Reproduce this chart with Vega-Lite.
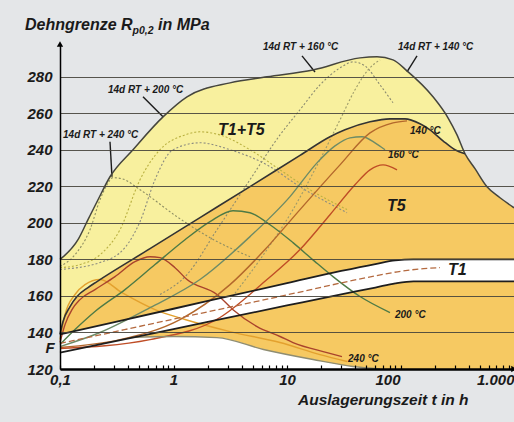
{
  "$schema": "https://vega.github.io/schema/vega-lite/v6.json",
  "width": 454,
  "height": 325,
  "autosize": {"type": "none"},
  "padding": {"left": 60, "top": 44, "right": 0, "bottom": 53},
  "background": "#e4e6e8",
  "config": {"font": "Liberation Sans", "view": {"stroke": null}},
  "datasets": {
    "dome": [
      {"t": 0.1, "v": 180}, {"t": 0.1441, "v": 190.8}, {"t": 0.1765, "v": 201.8}, {"t": 0.2162, "v": 212.7},
      {"t": 0.2758, "v": 225.3}, {"t": 0.4396, "v": 240.1}, {"t": 0.8082, "v": 258.1}, {"t": 1.315, "v": 269.1},
      {"t": 3.148, "v": 276.7}, {"t": 6.664, "v": 280}, {"t": 16.95, "v": 283.8}, {"t": 43.98, "v": 290.4},
      {"t": 62.09, "v": 291}, {"t": 85.89, "v": 289.3}, {"t": 114.1, "v": 283.3}, {"t": 193.3, "v": 269.1},
      {"t": 262.1, "v": 257.6}, {"t": 314.7, "v": 248.2}, {"t": 370.1, "v": 237.9}, {"t": 453.3, "v": 229.7},
      {"t": 578.3, "v": 219.8}, {"t": 752.9, "v": 213.8}, {"t": 1000, "v": 208.3}
    ],
    "orange": [
      {"t": 0.1, "v": 139}, {"t": 0.1063, "v": 146}, {"t": 0.1225, "v": 154.2}, {"t": 0.1412, "v": 159.7},
      {"t": 0.1765, "v": 164.6}, {"t": 0.2118, "v": 167.9}, {"t": 0.6209, "v": 185.9}, {"t": 1.712, "v": 202.9},
      {"t": 4.721, "v": 219.9}, {"t": 13.02, "v": 237}, {"t": 23.92, "v": 247.2}, {"t": 32.43, "v": 251},
      {"t": 53.87, "v": 255.4}, {"t": 80.79, "v": 257}, {"t": 109.5, "v": 257}, {"t": 148.5, "v": 254.3},
      {"t": 181.9, "v": 251}, {"t": 236.8, "v": 245}, {"t": 302.1, "v": 240.1}, {"t": 370.1, "v": 237.9},
      {"t": 453.3, "v": 229.7}, {"t": 578.3, "v": 219.8}, {"t": 752.9, "v": 213.8}, {"t": 1000, "v": 208.3}
    ],
    "band": [
      {"t": 0.1, "v": 139, "v2": 129}, {"t": 1, "v": 153, "v2": 141.9}, {"t": 10, "v": 167, "v2": 154.8},
      {"t": 30, "v": 173.7, "v2": 160.9}, {"t": 60, "v": 177.5, "v2": 164.6}, {"t": 90, "v": 179.5, "v2": 166.9},
      {"t": 130, "v": 180, "v2": 168}, {"t": 1000, "v": 180, "v2": 168}
    ],
    "bottom": [
      {"t": 0.1, "v": 129}, {"t": 0.25, "v": 134.1}, {"t": 0.414, "v": 137.2}, {"t": 1, "v": 137.8},
      {"t": 2.416, "v": 137.2}, {"t": 6.2, "v": 130.7}, {"t": 16.95, "v": 125.2}, {"t": 38, "v": 121.4}, {"t": 66, "v": 120}
    ],
    "curves": [
      {"s": "c240o", "t": 0.1, "v": 136.1}, {"s": "c240o", "t": 0.1107, "v": 149.8}, {"s": "c240o", "t": 0.1356, "v": 160.8},
      {"s": "c240o", "t": 0.1661, "v": 166.2}, {"s": "c240o", "t": 0.2251, "v": 169}, {"s": "c240o", "t": 0.3518, "v": 161.8},
      {"s": "c240o", "t": 0.6871, "v": 152.5}, {"s": "c240o", "t": 1.263, "v": 147.1}, {"s": "c240o", "t": 3.148, "v": 140.5},
      {"s": "c240o", "t": 8.677, "v": 134.5}, {"s": "c240o", "t": 19.53, "v": 127.9}, {"s": "c240o", "t": 33.78, "v": 124.1},

      {"s": "c240r", "t": 0.1, "v": 134.5}, {"s": "c240r", "t": 0.1107, "v": 144.3}, {"s": "c240r", "t": 0.1275, "v": 152.5},
      {"s": "c240r", "t": 0.15, "v": 158}, {"s": "c240r", "t": 0.2034, "v": 163.5}, {"s": "c240r", "t": 0.3052, "v": 170.6},
      {"s": "c240r", "t": 0.4578, "v": 178.8}, {"s": "c240r", "t": 0.6209, "v": 181.5}, {"s": "c240r", "t": 0.7603, "v": 181},
      {"s": "c240r", "t": 1.031, "v": 175.5}, {"s": "c240r", "t": 1.315, "v": 169}, {"s": "c240r", "t": 2.416, "v": 160.8},
      {"s": "c240r", "t": 3.344, "v": 152.5}, {"s": "c240r", "t": 5.442, "v": 143.2}, {"s": "c240r", "t": 8.677, "v": 137.8},
      {"s": "c240r", "t": 11.29, "v": 134.5}, {"s": "c240r", "t": 22.51, "v": 129}, {"s": "c240r", "t": 30.5, "v": 126.8},

      {"s": "c200", "t": 0.1, "v": 133.4}, {"s": "c200", "t": 0.1356, "v": 141.6}, {"s": "c200", "t": 0.2034, "v": 151.5},
      {"s": "c200", "t": 0.3738, "v": 163.5}, {"s": "c200", "t": 0.6871, "v": 177.2}, {"s": "c200", "t": 1.263, "v": 190.8},
      {"s": "c200", "t": 2.097, "v": 200.7}, {"s": "c200", "t": 3.344, "v": 206.7}, {"s": "c200", "t": 4.721, "v": 205.6},
      {"s": "c200", "t": 7.083, "v": 199}, {"s": "c200", "t": 11.29, "v": 189.2}, {"s": "c200", "t": 17.65, "v": 178.8},
      {"s": "c200", "t": 25.43, "v": 170.6}, {"s": "c200", "t": 43.98, "v": 159.7}, {"s": "c200", "t": 80.79, "v": 150.9},

      {"s": "c160", "t": 0.1, "v": 132.3}, {"s": "c160", "t": 0.2251, "v": 140}, {"s": "c160", "t": 0.6209, "v": 153.6},
      {"s": "c160", "t": 1.712, "v": 169}, {"s": "c160", "t": 4.721, "v": 192.5}, {"s": "c160", "t": 10.63, "v": 214.4},
      {"s": "c160", "t": 18.38, "v": 232.9}, {"s": "c160", "t": 26.48, "v": 242.2}, {"s": "c160", "t": 35.92, "v": 246.6},
      {"s": "c160", "t": 45.8, "v": 247.2}, {"s": "c160", "t": 59.62, "v": 243.9}, {"s": "c160", "t": 73.03, "v": 240.1},

      {"s": "c140b", "t": 0.1, "v": 131.8}, {"s": "c140b", "t": 0.3378, "v": 136.1}, {"s": "c140b", "t": 1.141, "v": 147.1},
      {"s": "c140b", "t": 3.148, "v": 166.2}, {"s": "c140b", "t": 6.399, "v": 185.4}, {"s": "c140b", "t": 13.02, "v": 207.3},
      {"s": "c140b", "t": 29.31, "v": 231.8}, {"s": "c140b", "t": 53.87, "v": 249.3}, {"s": "c140b", "t": 85.89, "v": 254.8},
      {"s": "c140b", "t": 114.1, "v": 255.9},

      {"s": "c150r", "t": 0.1, "v": 131.2}, {"s": "c150r", "t": 0.6209, "v": 136.1}, {"s": "c150r", "t": 2.569, "v": 148.2},
      {"s": "c150r", "t": 6.664, "v": 169}, {"s": "c150r", "t": 13.02, "v": 185.4}, {"s": "c150r", "t": 23.92, "v": 204.5},
      {"s": "c150r", "t": 39.73, "v": 220.9}, {"s": "c150r", "t": 53.87, "v": 229.1}, {"s": "c150r", "t": 70.13, "v": 231.8},
      {"s": "c150r", "t": 93.16, "v": 229.1},

      {"s": "gray", "t": 0.414, "v": 137.2}, {"s": "gray", "t": 1, "v": 137.8}, {"s": "gray", "t": 2.416, "v": 137.2},
      {"s": "gray", "t": 6.2, "v": 130.7}, {"s": "gray", "t": 16.95, "v": 125.2}, {"s": "gray", "t": 38, "v": 121.4},
      {"s": "gray", "t": 66, "v": 120},

      {"s": "mid", "t": 0.1, "v": 134}, {"s": "mid", "t": 1, "v": 147.3}, {"s": "mid", "t": 10, "v": 160.6},
      {"s": "mid", "t": 50, "v": 170}, {"s": "mid", "t": 100, "v": 173.5}, {"s": "mid", "t": 160, "v": 175}, {"s": "mid", "t": 223, "v": 175.5},

      {"s": "d240", "t": 0.1, "v": 176.1}, {"s": "d240", "t": 0.1356, "v": 182.6}, {"s": "d240", "t": 0.1837, "v": 196.3},
      {"s": "d240", "t": 0.2251, "v": 212.7}, {"s": "d240", "t": 0.2595, "v": 220.9}, {"s": "d240", "t": 0.2931, "v": 224.8},
      {"s": "d240", "t": 0.3518, "v": 224.2}, {"s": "d240", "t": 0.5069, "v": 218.2}, {"s": "d240", "t": 1.074, "v": 203.4},
      {"s": "d240", "t": 2.097, "v": 191.9}, {"s": "d240", "t": 4.721, "v": 181.5},

      {"s": "d200", "t": 0.1, "v": 175.5}, {"s": "d200", "t": 0.15, "v": 177.2}, {"s": "d200", "t": 0.2251, "v": 182.6},
      {"s": "d200", "t": 0.3378, "v": 196.3}, {"s": "d200", "t": 0.5069, "v": 223.7}, {"s": "d200", "t": 0.7603, "v": 240.1},
      {"s": "d200", "t": 1.263, "v": 248.2}, {"s": "d200", "t": 1.712, "v": 249.9}, {"s": "d200", "t": 2.569, "v": 248.2},
      {"s": "d200", "t": 4.721, "v": 240.1}, {"s": "d200", "t": 8.677, "v": 229.1}, {"s": "d200", "t": 15.94, "v": 218.2},
      {"s": "d200", "t": 33.78, "v": 207.3},

      {"s": "d180", "t": 0.1, "v": 174.5}, {"s": "d180", "t": 0.2251, "v": 178.3}, {"s": "d180", "t": 0.3738, "v": 186.5},
      {"s": "d180", "t": 0.5069, "v": 200.7}, {"s": "d180", "t": 0.6871, "v": 223.7}, {"s": "d180", "t": 0.99, "v": 240.1},
      {"s": "d180", "t": 1.712, "v": 243.9}, {"s": "d180", "t": 3.148, "v": 240.1}, {"s": "d180", "t": 6.664, "v": 231.8},
      {"s": "d180", "t": 13.02, "v": 219.8}, {"s": "d180", "t": 33.78, "v": 205.6},

      {"s": "d160", "t": 0.7603, "v": 160.8}, {"s": "d160", "t": 1.315, "v": 171.7}, {"s": "d160", "t": 2.416, "v": 196.3},
      {"s": "d160", "t": 4.721, "v": 223.7}, {"s": "d160", "t": 8.677, "v": 248.2}, {"s": "d160", "t": 13.02, "v": 262},
      {"s": "d160", "t": 19.53, "v": 275.6}, {"s": "d160", "t": 29.31, "v": 284.9}, {"s": "d160", "t": 38.15, "v": 288.2},
      {"s": "d160", "t": 48.68, "v": 286}, {"s": "d160", "t": 65.99, "v": 275.6}, {"s": "d160", "t": 85.89, "v": 265.8},

      {"s": "d140", "t": 3.148, "v": 158}, {"s": "d140", "t": 5.782, "v": 179.9}, {"s": "d140", "t": 11.29, "v": 207.3},
      {"s": "d140", "t": 19.53, "v": 234.6}, {"s": "d140", "t": 29.31, "v": 256.5}, {"s": "d140", "t": 39.73, "v": 272.9},
      {"s": "d140", "t": 51.73, "v": 283.8}, {"s": "d140", "t": 65.99, "v": 289.3},

      {"s": "p240", "t": 0.2758, "v": 244.5}, {"s": "p240", "t": 0.2871, "v": 225.3},
      {"s": "p200", "t": 0.5386, "v": 269.1}, {"s": "p200", "t": 0.8082, "v": 258.1},
      {"s": "p160", "t": 13.56, "v": 291.5}, {"s": "p160", "t": 17.65, "v": 282.7},
      {"s": "p140", "t": 114.1, "v": 282.7}, {"s": "p140", "t": 139.8, "v": 291.5}
    ],
    "big": [
      {"label": "T1+T5", "t": 2.466, "v": 250.9},
      {"label": "T5", "t": 76.03, "v": 209.4},
      {"label": "T1", "t": 262.1, "v": 174.4}
    ],
    "fLabel": [
      {"label": "F", "t": 0.0745, "v": 131.6}
    ],
    "small": [
      {"label": "14d RT + 160 °C", "t": 6.144, "v": 296.4},
      {"label": "14d RT + 140 °C", "t": 95.1, "v": 296.4},
      {"label": "14d RT + 200 °C", "t": 0.2648, "v": 272.9},
      {"label": "14d RT + 240 °C", "t": 0.1063, "v": 248.2},
      {"label": "140 °C", "t": 121.3, "v": 250.4},
      {"label": "160 °C", "t": 77.6, "v": 237.3},
      {"label": "200 °C", "t": 89.44, "v": 149.8},
      {"label": "240 °C", "t": 34.5, "v": 125.7}
    ],
    "title": [
      {"label": "Dehngrenze R", "t": 0.04915, "v": 305.7},
      {"label": "p0,2", "t": 0.04915, "v": 305.7},
      {"label": "in MPa", "t": 0.04915, "v": 305.7}
    ],
    "arrows": [
      {"dir": "up", "t": 0.1, "v": 298},
      {"dir": "right", "t": 1000, "v": 120}
    ]
  },
  "encoding": {
    "x": {
      "field": "t", "type": "quantitative",
      "scale": {"type": "log", "domain": [0.1, 1000], "nice": false},
      "axis": {
        "values": [0.1, 0.2, 0.3, 0.4, 0.5, 0.6, 0.7, 0.8, 0.9, 1, 2, 3, 4, 5, 6, 7, 8, 9, 10, 20, 30, 40, 50, 60, 70, 80, 90, 100, 200, 300, 400, 500, 600, 700, 800, 900, 1000],
        "labelExpr": "datum.value == 0.1 ? '0,1' : datum.value == 1 ? '1' : datum.value == 10 ? '10' : datum.value == 100 ? '100' : datum.value == 1000 ? '1.000' : ''",
        "labelAlign": {"condition": {"test": "datum.value > 500", "value": "right"}, "value": "center"},
        "labelOffset": {"condition": {"test": "datum.value > 50 && datum.value < 500", "value": -13}, "value": 0},
        "labelOverlap": false,
        "labelFontSize": 15, "labelFontStyle": "italic", "labelFontWeight": "bold", "labelColor": "#1a1a1a",
        "labelPadding": 7,
        "ticks": true, "tickSize": -4, "tickColor": "#000000", "tickWidth": 1.2,
        "grid": false,
        "domainColor": "#000000", "domainWidth": 2.5,
        "title": "Auslagerungszeit t in h",
        "titleFontSize": 15.5, "titleFontStyle": "italic", "titleFontWeight": "bold", "titleColor": "#1a1a1a",
        "titleAlign": "right", "titleBaseline": "alphabetic", "titleX": 408, "titleY": 35,
        "zindex": 1
      }
    },
    "y": {
      "field": "v", "type": "quantitative",
      "scale": {"domain": [120, 298], "nice": false, "zero": false},
      "axis": {
        "values": [120, 140, 160, 180, 200, 220, 240, 260, 280],
        "labelFontSize": 15, "labelFontStyle": "italic", "labelFontWeight": "bold", "labelColor": "#1a1a1a",
        "labelPadding": 8, "ticks": false,
        "domainColor": "#000000", "domainWidth": 1.5,
        "grid": true, "gridColor": "#46443c", "gridOpacity": 0.9, "gridWidth": 1,
        "title": null, "zindex": 1
      }
    }
  },
  "layer": [
    {
      "data": {"values": [{}]},
      "mark": {"type": "rect", "color": "#ffffff"},
      "encoding": {
        "x": {"datum": 0.0463, "type": "quantitative", "scale": {"type": "log", "domain": [0.1, 1000], "nice": false}},
        "x2": {"datum": 5000},
        "y": {"datum": 318, "type": "quantitative", "scale": {"domain": [120, 298], "nice": false, "zero": false}},
        "y2": {"datum": 80}
      }
    },
    {
      "data": {"name": "dome"},
      "mark": {"type": "area", "color": "#f8f09e", "interpolate": "monotone"},
      "encoding": {"y2": {"datum": 120}}
    },
    {
      "data": {"name": "orange"},
      "mark": {"type": "area", "color": "#f6c962", "interpolate": "monotone"},
      "encoding": {"y2": {"datum": 120}}
    },
    {
      "data": {"name": "band"},
      "mark": {"type": "area", "color": "#ffffff", "interpolate": "monotone"},
      "encoding": {"y2": {"field": "v2"}}
    },
    {
      "data": {"name": "bottom"},
      "mark": {"type": "area", "color": "#ffffff", "interpolate": "monotone"},
      "encoding": {"y2": {"datum": 120}}
    },
    {
      "data": {"name": "curves"},
      "transform": [{"filter": {"field": "s", "oneOf": ["d240", "d200", "d180", "d160", "d140"]}}],
      "mark": {"type": "line", "interpolate": "monotone", "strokeWidth": 1.1, "strokeDash": [2, 2]},
      "encoding": {
        "color": {"field": "s", "type": "nominal", "legend": null,
          "scale": {"domain": ["d240", "d200", "d180", "d160", "d140"], "range": ["#8e8e62", "#b9b040", "#8c8c80", "#8a8a70", "#9c9a6a"]}}
      }
    },
    {
      "data": {"name": "curves"},
      "transform": [{"filter": {"field": "s", "oneOf": ["c240o", "c240r", "c200", "c160", "c140b", "c150r", "gray"]}}],
      "mark": {"type": "line", "interpolate": "monotone", "strokeWidth": 1.4},
      "encoding": {
        "color": {"field": "s", "type": "nominal", "legend": null,
          "scale": {"domain": ["c240o", "c240r", "c200", "c160", "c140b", "c150r", "gray"],
                    "range": ["#e3a12e", "#a9432c", "#4e7a45", "#6d8b66", "#b4682c", "#bf4d26", "#8f8d72"]}}
      }
    },
    {
      "data": {"name": "curves"},
      "transform": [{"filter": "datum.s == 'mid'"}],
      "mark": {"type": "line", "interpolate": "monotone", "strokeWidth": 1.3, "color": "#b46a40", "strokeDash": [6, 3]},
      "encoding": {}
    },
    {
      "data": {"name": "curves"},
      "transform": [{"filter": {"field": "s", "oneOf": ["p240", "p200", "p160", "p140"]}}],
      "mark": {"type": "line", "strokeWidth": 1.4, "color": "#1a1a1a"},
      "encoding": {"detail": {"field": "s"}}
    },
    {
      "data": {"name": "dome"},
      "mark": {"type": "line", "interpolate": "monotone", "strokeWidth": 1.5, "color": "#45453d"},
      "encoding": {}
    },
    {
      "data": {"name": "orange"},
      "transform": [{"filter": "datum.t <= 371"}],
      "mark": {"type": "line", "interpolate": "monotone", "strokeWidth": 1.6, "color": "#333333"},
      "encoding": {}
    },
    {
      "data": {"name": "band"},
      "mark": {"type": "line", "interpolate": "monotone", "strokeWidth": 1.8, "color": "#1e1e1e"},
      "encoding": {}
    },
    {
      "data": {"name": "band"},
      "mark": {"type": "line", "interpolate": "monotone", "strokeWidth": 1.8, "color": "#1e1e1e"},
      "encoding": {"y": {"field": "v2", "type": "quantitative", "scale": {"domain": [120, 298], "nice": false, "zero": false}}}
    },
    {
      "data": {"name": "arrows"},
      "mark": {"type": "point", "filled": true, "color": "#000000", "size": 40, "opacity": 1},
      "encoding": {
        "shape": {"field": "dir", "type": "nominal", "legend": null,
          "scale": {"domain": ["up", "right"], "range": ["triangle-up", "triangle-right"]}}
      }
    },
    {
      "data": {"name": "big"},
      "mark": {"type": "text", "align": "left", "baseline": "middle", "fontSize": 16, "fontStyle": "italic", "fontWeight": "bold", "color": "#1a1a1a"},
      "encoding": {"text": {"field": "label"}}
    },
    {
      "data": {"name": "fLabel"},
      "mark": {"type": "text", "align": "left", "baseline": "middle", "fontSize": 15, "fontStyle": "italic", "fontWeight": "bold", "color": "#1a1a1a"},
      "encoding": {"text": {"field": "label"}}
    },
    {
      "data": {"name": "small"},
      "mark": {"type": "text", "align": "left", "baseline": "middle", "fontSize": 10, "fontStyle": "italic", "fontWeight": "bold", "color": "#1a1a1a"},
      "encoding": {"text": {"field": "label"}}
    },
    {
      "data": {"name": "title"},
      "transform": [{"filter": "datum.label == 'Dehngrenze R'"}],
      "mark": {"type": "text", "align": "left", "baseline": "alphabetic", "fontSize": 16, "fontStyle": "italic", "fontWeight": "bold", "color": "#1a1a1a"},
      "encoding": {"text": {"field": "label"}}
    },
    {
      "data": {"name": "title"},
      "transform": [{"filter": "datum.label == 'p0,2'"}],
      "mark": {"type": "text", "align": "left", "baseline": "alphabetic", "dx": 107.6, "dy": 4, "fontSize": 10.5, "fontStyle": "italic", "fontWeight": "bold", "color": "#1a1a1a"},
      "encoding": {"text": {"field": "label"}}
    },
    {
      "data": {"name": "title"},
      "transform": [{"filter": "datum.label == 'in MPa'"}],
      "mark": {"type": "text", "align": "left", "baseline": "alphabetic", "dx": 133, "fontSize": 16, "fontStyle": "italic", "fontWeight": "bold", "color": "#1a1a1a"},
      "encoding": {"text": {"field": "label"}}
    }
  ],
  "resolve": {"scale": {"color": "independent"}}
}
